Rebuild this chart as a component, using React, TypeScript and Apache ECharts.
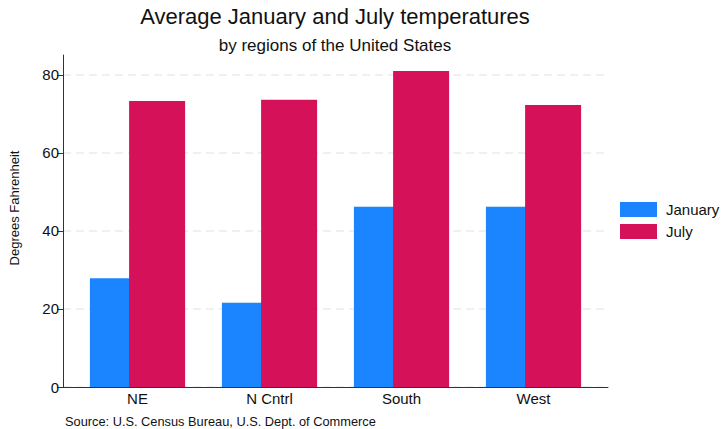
import React, { useEffect, useRef } from "react";
import * as echarts from "echarts";

const regions = ["NE", "N Cntrl", "South", "West"];
const january = [27.9, 21.6, 46.2, 46.2];
const july = [73.3, 73.6, 81.0, 72.3];
const yTicks = [0, 20, 40, 60, 80];
const seriesNames = ["January", "July"];
const colors = ["#1a85ff", "#d41159"];

const FONT = "'Liberation Sans', Arial, Helvetica, sans-serif";

export default function App() {
  const ref = useRef<HTMLDivElement>(null);
  useEffect(() => {
    if (!ref.current) return;
    const chart = echarts.init(ref.current, undefined, { renderer: "svg" });
    const idx = regions.map((_, i) => i);
    const pad = 0.5644;
    const option: any = {
      animation: false,
      backgroundColor: "#ffffff",
      textStyle: { fontFamily: FONT },
      grid: { left: 63, right: 117, top: 55, bottom: 42, containLabel: false },
      legend: {
        data: seriesNames,
        orient: "vertical",
        left: 620,
        top: 202,
        itemWidth: 37,
        itemHeight: 15,
        itemGap: 7,
        icon: "rect",
        padding: 0,
        textStyle: { fontSize: 15, color: "#111", fontFamily: FONT, padding: [0, 0, 0, 4] },
      },
      xAxis: {
        type: "value",
        min: -pad,
        max: regions.length - 1 + pad,
        axisLine: { show: true, onZero: false, lineStyle: { color: "#333", width: 1 } },
        axisTick: { show: false },
        splitLine: { show: false },
        axisLabel: {
          customValues: idx,
          formatter: (v: number) => regions[Math.round(v)] ?? "",
          fontSize: 15,
          color: "#111",
          margin: 4,
          fontFamily: FONT,
        },
      },
      yAxis: {
        type: "value",
        min: 0,
        max: 85.1,
        axisLine: { show: true, onZero: false, lineStyle: { color: "#333", width: 1 } },
        axisTick: { show: true, customValues: yTicks, length: 6, lineStyle: { color: "#333" } },
        axisLabel: { customValues: yTicks, fontSize: 15, color: "#111", margin: 4, fontFamily: FONT },
        splitLine: { show: true, lineStyle: { color: "#ebebeb", type: [8, 5], width: 1.5 } },
      },
      series: [
        {
          name: seriesNames[0],
          type: "bar",
          z: 2,
          barWidth: 56,
          barGap: "-30%",
          itemStyle: { color: colors[0] },
          data: january.map((v, i) => [i, v]),
        },
        {
          name: seriesNames[1],
          type: "bar",
          z: 3,
          barWidth: 56,
          barGap: "-30%",
          itemStyle: { color: colors[1] },
          data: july.map((v, i) => [i, v]),
        },
      ],
      graphic: [
        {
          type: "text",
          x: 335,
          y: 16,
          style: {
            text: "Average January and July temperatures",
            fontSize: 22,
            fontFamily: FONT,
            fill: "#111",
            textAlign: "center",
            textVerticalAlign: "middle",
            align: "center",
            verticalAlign: "middle",
          },
        },
        {
          type: "text",
          x: 335,
          y: 45,
          style: {
            text: "by regions of the United States",
            fontSize: 17,
            fontFamily: FONT,
            fill: "#111",
            textAlign: "center",
            textVerticalAlign: "middle",
            align: "center",
            verticalAlign: "middle",
          },
        },
        {
          type: "text",
          x: 14,
          y: 208,
          rotation: Math.PI / 2,
          style: {
            text: "Degrees Fahrenheit",
            fontSize: 13,
            fontFamily: FONT,
            fill: "#111",
            textAlign: "center",
            textVerticalAlign: "middle",
            align: "center",
            verticalAlign: "middle",
          },
        },
        {
          type: "text",
          x: 65,
          y: 421,
          style: {
            text: "Source: U.S. Census Bureau, U.S. Dept. of Commerce",
            fontSize: 12.8,
            fontFamily: FONT,
            fill: "#111",
            textAlign: "left",
            textVerticalAlign: "middle",
            align: "left",
            verticalAlign: "middle",
          },
        },
      ],
    };
    chart.setOption(option);
    return () => chart.dispose();
  }, []);
  return (
    <div
      ref={ref}
      style={{ position: "fixed", left: 0, top: 0, width: 725, height: 429, background: "#fff" }}
    />
  );
}
